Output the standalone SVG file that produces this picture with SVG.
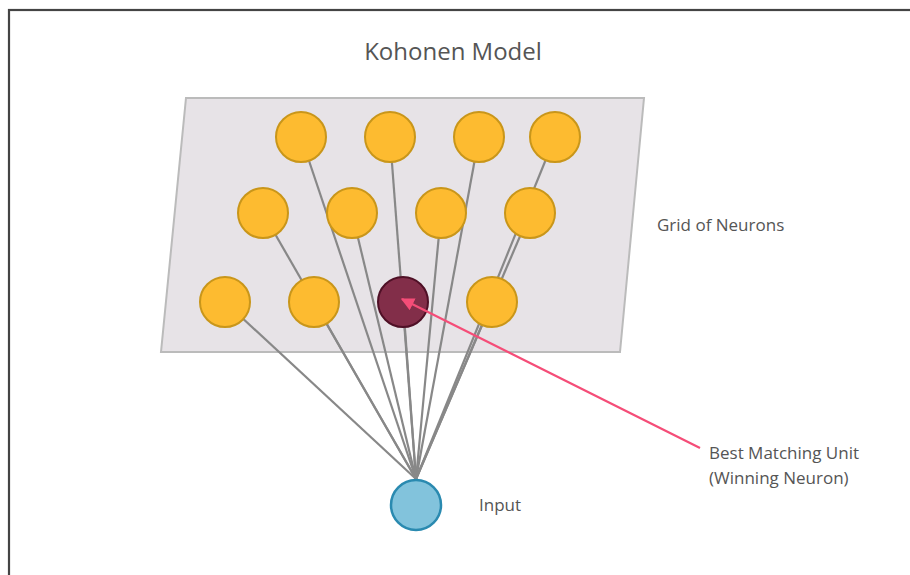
<svg xmlns="http://www.w3.org/2000/svg" width="910" height="575" viewBox="0 0 910 575">
<defs>
<style>
.lbl{font-family:"Open Sans","Noto Sans","Liberation Sans",sans-serif;fill:#555;font-size:17px}
.title{font-family:"Open Sans","Noto Sans","Liberation Sans",sans-serif;fill:#555;font-size:24px}
.neuron{fill:#fdbb30;stroke:#c9961a;stroke-width:2}
.bmu{fill:#822e49;stroke:#4f1026;stroke-width:2}
.input{fill:#82c3dc;stroke:#2a8ab0;stroke-width:2.5}
.conn line{stroke:#888;stroke-width:2.2}
</style>
<marker id="ah" viewBox="0 0 10 10" refX="9" refY="5" markerWidth="6" markerHeight="6" orient="auto" markerUnits="strokeWidth">
<path d="M0,0 L10,5 L0,10 z" fill="#f54d78"/>
</marker>
</defs>
<rect x="0" y="0" width="910" height="575" fill="#fff"/>
<rect x="9" y="10" width="920" height="600" fill="none" stroke="#444" stroke-width="2.2"/>
<text class="title" x="453" y="60" text-anchor="middle">Kohonen Model</text>
<g id="grid">
<polygon points="186,98 644,98 620,352 161,352" fill="#e7e3e7" stroke="#bbb" stroke-width="2"/>
</g>
<g id="connectors" class="conn">
<line x1="301" y1="137" x2="416" y2="479"/>
<line x1="390" y1="137" x2="416" y2="479"/>
<line x1="479" y1="137" x2="416" y2="479"/>
<line x1="555" y1="137" x2="416" y2="479"/>
<line x1="263" y1="213" x2="416" y2="479"/>
<line x1="352" y1="213" x2="416" y2="479"/>
<line x1="441" y1="213" x2="416" y2="479"/>
<line x1="530" y1="213" x2="416" y2="479"/>
<line x1="225" y1="302" x2="416" y2="479"/>
<line x1="314" y1="302" x2="416" y2="479"/>
<line x1="403" y1="302" x2="416" y2="479"/>
<line x1="492" y1="302" x2="416" y2="479"/>
</g>
<g id="n11"><circle class="neuron" cx="301" cy="137" r="25"/></g>
<g id="n12"><circle class="neuron" cx="390" cy="137" r="25"/></g>
<g id="n13"><circle class="neuron" cx="479" cy="137" r="25"/></g>
<g id="n14"><circle class="neuron" cx="555" cy="137" r="25"/></g>
<g id="n21"><circle class="neuron" cx="263" cy="213" r="25"/></g>
<g id="n22"><circle class="neuron" cx="352" cy="213" r="25"/></g>
<g id="n23"><circle class="neuron" cx="441" cy="213" r="25"/></g>
<g id="n24"><circle class="neuron" cx="530" cy="213" r="25"/></g>
<g id="n31"><circle class="neuron" cx="225" cy="302" r="25"/></g>
<g id="n32"><circle class="neuron" cx="314" cy="302" r="25"/></g>
<g id="bmu"><circle class="bmu" cx="403" cy="302" r="25"/></g>
<g id="n34"><circle class="neuron" cx="492" cy="302" r="25"/></g>
<g id="input"><circle class="input" cx="416" cy="505" r="25"/></g>
<g id="arrow">
<line x1="700" y1="448" x2="402" y2="299" stroke="#f54d78" stroke-width="2.2" marker-end="url(#ah)"/>
</g>
<text class="lbl" x="657" y="231">Grid of Neurons</text>
<text class="lbl" x="479" y="511">Input</text>
<text class="lbl" x="709" y="459">Best Matching Unit</text>
<text class="lbl" x="709" y="484">(Winning Neuron)</text>
</svg>
